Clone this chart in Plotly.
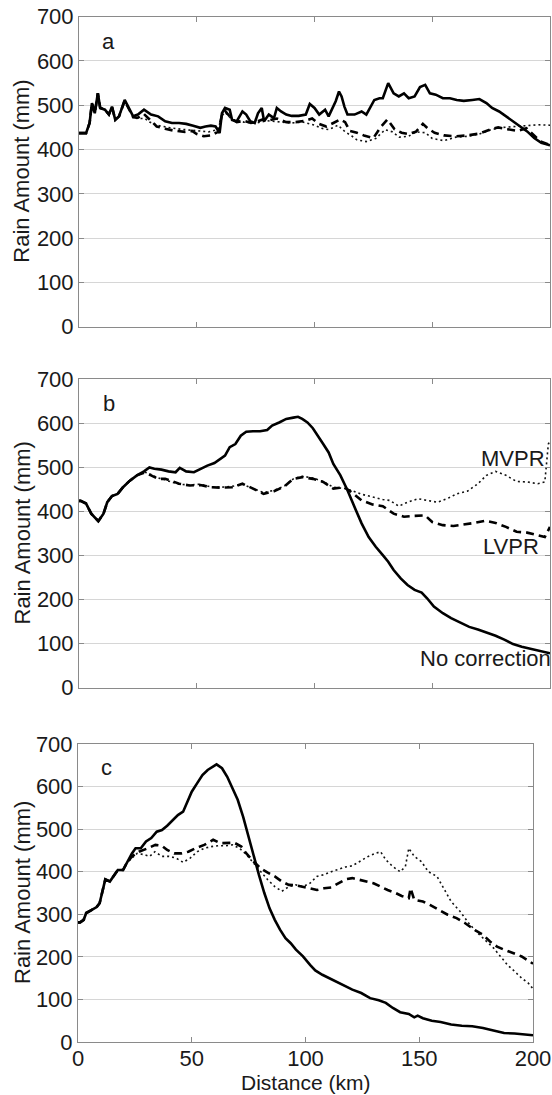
import plotly.graph_objects as go

# ---------------- Panel a ----------------
a_nc_x = [0, 3, 4.5, 5.5, 6.7, 8, 9, 11, 12.7, 14, 15.4, 17, 19.4, 21, 23, 25, 27.6, 30.6, 33.6, 36.6, 39.5, 42.5, 45.5, 48.5, 51.5, 53.7, 56, 58, 59.7, 60.7, 62, 64, 65, 67, 69.4, 71, 72.7, 74.6, 76, 77.6, 78.6, 80.6, 82.8, 84, 85.8, 88, 90.3, 93.3, 96.3, 98, 100, 102, 104.5, 106, 108, 109, 110.4, 111.5, 112.7, 114, 117, 120, 122, 125.4, 127.6, 129, 131.3, 133.6, 135.8, 138, 140, 142.5, 144.8, 147, 149, 151.5, 154.5, 157.5, 160.4, 163.4, 167, 170, 173, 175.4, 178.4, 181.3, 184.3, 187.3, 190.3, 193.3, 196.3, 199.3, 200]
a_nc_y = [437, 437, 460, 505, 482, 527, 494, 490, 479, 497, 467, 475, 512, 497, 475, 479, 490, 479, 475, 464, 460, 460, 458, 454, 449, 452, 454, 452, 437, 482, 494, 490, 467, 464, 486, 479, 464, 460, 482, 494, 464, 479, 471, 494, 486, 479, 476, 476, 479, 503, 494, 479, 490, 475, 499, 509, 531, 520, 497, 479, 479, 486, 479, 512, 516, 516, 550, 527, 520, 527, 516, 520, 541, 546, 527, 524, 516, 516, 512, 510, 512, 514, 505, 494, 486, 475, 464, 452, 441, 426, 415, 411, 409]

a_lv_x = [0, 3, 4.5, 5.5, 6.7, 8, 9, 11, 12.7, 14, 15.4, 17, 19.4, 21, 23, 25, 27.6, 30, 33, 36.6, 40, 45, 48, 50, 53, 56, 59, 60.7, 62, 65, 67, 70, 73, 75, 78, 80, 84, 88, 92, 96, 99, 102, 105, 108, 111, 113, 115, 118, 121, 125, 128, 131, 134, 137, 140, 143, 146, 148, 151, 155, 160, 165, 170, 175, 178, 182, 186, 190, 193, 196, 200]
a_lv_y = [437, 437, 460, 505, 482, 527, 494, 490, 479, 497, 467, 475, 510, 495, 473, 472, 480, 468, 452, 447, 443, 440, 442, 435, 430, 432, 440, 478, 488, 468, 462, 465, 460, 462, 468, 465, 470, 462, 462, 465, 470, 458, 452, 460, 468, 462, 442, 438, 432, 426, 450, 468, 446, 438, 435, 440, 458, 448, 438, 432, 430, 432, 436, 446, 450, 446, 442, 448, 432, 418, 410]

a_mv_x = [0, 3, 4.5, 5.5, 6.7, 8, 9, 11, 12.7, 14, 15.4, 17, 19.4, 21, 23, 25, 28, 30, 33, 36, 40, 45, 50, 55, 59, 60.7, 62, 65, 70, 75, 80, 85, 90, 95, 100, 103, 106, 110, 113, 116, 118, 122, 126, 130, 133, 136, 140, 143, 147, 150, 155, 160, 165, 170, 175, 180, 185, 190, 195, 200]
a_mv_y = [437, 437, 460, 505, 482, 527, 494, 490, 479, 497, 467, 475, 510, 495, 472, 470, 470, 462, 455, 452, 448, 445, 442, 440, 445, 476, 484, 468, 462, 460, 465, 462, 460, 462, 455, 448, 445, 455, 440, 430, 422, 418, 425, 445, 440, 428, 430, 440, 438, 425, 420, 428, 430, 435, 445, 450, 452, 455, 456, 455]

# ---------------- Panel b ----------------
b_nc_x = [0, 0.7, 3, 5.2, 8.2, 10.4, 12, 14, 16.4, 18.7, 21.6, 24.6, 27.6, 29.9, 32, 35, 38, 41, 42.8, 45.5, 48.8, 51.5, 54.5, 57.5, 59.7, 62, 64, 66.4, 68.7, 71, 73.9, 76.9, 79.9, 82, 85, 88, 91, 93, 94.8, 97, 99.3, 101.5, 103.7, 106, 108, 111, 114, 117, 120, 123, 126, 129, 131.3, 133.6, 136.6, 139.5, 142.5, 145.5, 147.8, 150.7, 154.5, 158, 162, 165.7, 169.4, 173, 176.9, 180.6, 184.3, 188, 191.8, 195.5, 199.3, 200]
b_nc_y = [424, 424, 418, 395, 378, 395, 421, 435, 440, 455, 470, 482, 491, 500, 497, 495, 491, 489, 499, 491, 489, 497, 504, 510, 519, 527, 546, 553, 572, 581, 582, 582, 585, 595, 602, 610, 613, 615, 610, 602, 589, 572, 553, 534, 508, 482, 448, 410, 373, 342, 320, 301, 286, 267, 248, 233, 222, 216, 203, 184, 169, 158, 147, 138, 132, 126, 118, 109, 99, 93, 88, 83, 79, 78]

b_lv_x = [0, 0.7, 3, 5.2, 8.2, 10.4, 12, 14, 16.4, 18.7, 21.6, 24.6, 27.6, 30.6, 33.6, 36.6, 39.5, 42.5, 47, 51.5, 56, 60.4, 65, 69.4, 73.9, 78.4, 82.8, 87.3, 91, 94.8, 99.3, 103.7, 108, 112.7, 115.7, 120, 124.6, 129, 133.6, 138, 142.5, 147, 150, 154.5, 159, 163.4, 167.9, 172.4, 176.9, 181.3, 185.8, 190.3, 194.8, 197.8, 200]
b_lv_y = [424, 424, 418, 395, 378, 395, 421, 435, 440, 455, 470, 482, 488, 482, 474, 474, 469, 463, 459, 460, 455, 454, 455, 463, 452, 440, 446, 457, 474, 478, 474, 467, 452, 455, 444, 425, 416, 412, 395, 388, 390, 391, 376, 369, 367, 370, 374, 379, 374, 365, 354, 352, 346, 342, 365]

b_mv_x = [0, 0.7, 3, 5.2, 8.2, 10.4, 12, 14, 16.4, 18.7, 21.6, 24.6, 27.6, 30.6, 33.6, 36.6, 39.5, 42.5, 47, 51.5, 56, 60.4, 65, 69.4, 73.9, 78.4, 82.8, 87.3, 91, 94.8, 99.3, 103.7, 108, 112.7, 115.7, 120, 124.6, 129, 132, 135.8, 139.5, 144, 147.8, 152.2, 156.7, 160.4, 164.9, 169.4, 173, 176.9, 181.3, 185.8, 190.3, 194.8, 197.8, 199.3, 200]
b_mv_y = [424, 424, 418, 395, 378, 395, 421, 435, 440, 455, 470, 482, 490, 484, 476, 472, 466, 462, 460, 462, 456, 455, 457, 462, 452, 443, 448, 458, 474, 480, 476, 468, 455, 452, 448, 439, 433, 427, 425, 412, 421, 429, 425, 421, 430, 440, 446, 463, 482, 491, 482, 468, 467, 463, 467, 553, 560]

# ---------------- Panel c ----------------
c_nc_x = [0, 0.9, 2.5, 3.6, 5.9, 8.2, 9.5, 10.5, 12, 14, 16, 17.5, 19.8, 21.4, 23.7, 25.3, 27.6, 29.9, 32.2, 34.6, 36.9, 39.2, 41.6, 43.9, 46.2, 47.8, 50, 52.4, 54.7, 57, 59.4, 60.9, 63.3, 65.6, 67.9, 70.2, 72.6, 74.9, 77.2, 79.5, 81.9, 84.2, 86.5, 88.8, 91.2, 93.5, 95.8, 98.9, 102, 104.3, 107.4, 110.5, 113.6, 116.7, 120.6, 124.5, 128.4, 132.2, 135.3, 138.4, 141.6, 145.4, 147.8, 149.3, 151.6, 155.5, 159.4, 164, 168.7, 173.3, 178, 182.6, 187.3, 191.9, 196.6, 199.7, 200]
c_nc_y = [281, 281, 287, 303, 310, 317, 326, 350, 382, 377, 393, 404, 404, 420, 443, 455, 455, 471, 479, 494, 498, 508, 522, 533, 541, 561, 588, 608, 627, 639, 647, 652, 643, 623, 596, 569, 529, 483, 443, 393, 350, 314, 287, 264, 244, 232, 217, 201, 181, 168, 158, 150, 142, 135, 123, 115, 103, 98, 92, 80, 70, 66, 58, 62, 56, 50, 47, 41, 38, 37, 33, 27, 21, 20, 17, 16, 16]

c_lv_x = [0, 0.9, 2.5, 3.6, 5.9, 8.2, 9.5, 10.5, 12, 14, 16, 17.5, 19.8, 21.4, 23.7, 26.8, 30.7, 34, 36.9, 39.2, 42.3, 45.4, 48.5, 51.6, 55.5, 59.4, 62.5, 65.6, 68.7, 71.8, 74, 77.2, 80.3, 83.4, 86.5, 89.6, 92.7, 95.8, 98.9, 102, 105, 108.2, 111.3, 114.4, 117.5, 120.6, 123.7, 126.8, 129.9, 133, 136.1, 139.2, 142.3, 145.4, 146.2, 147.8, 151.6, 154.7, 158.6, 162.5, 166.4, 170.2, 174.1, 178, 181.1, 184.2, 187.3, 191.2, 195, 199.7, 200]
c_lv_y = [281, 281, 287, 303, 310, 317, 326, 350, 382, 377, 393, 404, 404, 420, 436, 447, 455, 463, 461, 451, 443, 443, 447, 455, 463, 475, 467, 468, 468, 459, 443, 424, 408, 398, 389, 377, 369, 368, 365, 361, 357, 361, 363, 373, 382, 385, 381, 377, 373, 365, 357, 351, 343, 338, 361, 334, 330, 322, 310, 299, 291, 279, 264, 252, 236, 224, 217, 209, 201, 185, 184]

c_mv_x = [0, 0.9, 2.5, 3.6, 5.9, 8.2, 9.5, 10.5, 12, 14, 16, 17.5, 19.8, 21.4, 23.7, 26, 29.1, 31.5, 33.8, 36.9, 40, 43.1, 46.2, 49.3, 52.4, 55.5, 58.6, 61.7, 64.8, 67.9, 71, 74.1, 77.2, 80.3, 83.4, 86.5, 89.6, 92.7, 95.8, 98.9, 102, 105, 108.2, 111.3, 114.4, 117.5, 120.6, 123.7, 127.6, 130.7, 133, 135.3, 138.4, 141.6, 143.9, 145.4, 147.8, 150.9, 154, 157.8, 160.9, 164, 167.9, 171.8, 175.7, 179.5, 182.6, 185.7, 188.8, 191.9, 195, 198, 199.7, 200]
c_mv_y = [281, 281, 287, 303, 310, 317, 326, 350, 382, 377, 393, 404, 404, 420, 432, 443, 440, 436, 447, 436, 436, 432, 422, 432, 447, 455, 459, 461, 461, 463, 455, 440, 420, 400, 381, 365, 354, 365, 369, 365, 373, 389, 393, 400, 406, 411, 414, 424, 436, 443, 447, 428, 412, 400, 412, 455, 436, 424, 400, 389, 361, 330, 307, 279, 256, 236, 221, 201, 181, 166, 150, 138, 127, 125]

# ---------------- labels ----------------
panel_letters = ["a", "b", "c"]
y_ticks = [0, 100, 200, 300, 400, 500, 600, 700]
x_ticks = [0, 50, 100, 150, 200]
y_title = "Rain Amount (mm)"
x_title = "Distance (km)"
series_names = ["No correction", "LVPR", "MVPR"]

W, H = 552, 1095
FONT = "Liberation Sans, Arial, Helvetica, sans-serif"
FS = 22
TXT = "#1a1a1a"
AXC = "#8a8a8a"
GRIDC = "#d6d6d6"

# panel geometry in pixels (left, right, top, bottom)
panels_px = [(79, 550, 16.7, 326.7), (79, 550, 379.3, 687.7), (78, 533, 744, 1042)]

fig = go.Figure()

data = [
    (a_nc_x, a_nc_y, a_lv_x, a_lv_y, a_mv_x, a_mv_y),
    (b_nc_x, b_nc_y, b_lv_x, b_lv_y, b_mv_x, b_mv_y),
    (c_nc_x, c_nc_y, c_lv_x, c_lv_y, c_mv_x, c_mv_y),
]

for i, (nx, ny, lx, ly, mx, my) in enumerate(data):
    sfx = "" if i == 0 else str(i + 1)
    xa, ya = "x" + sfx, "y" + sfx
    fig.add_trace(go.Scatter(x=mx, y=my, mode="lines", xaxis=xa, yaxis=ya, name=series_names[2],
                             line=dict(color="#111111", width=1.6, dash="2px,3px"), showlegend=False))
    fig.add_trace(go.Scatter(x=lx, y=ly, mode="lines", xaxis=xa, yaxis=ya, name=series_names[1],
                             line=dict(color="black", width=2.6, dash="8px,5px"), showlegend=False))
    fig.add_trace(go.Scatter(x=nx, y=ny, mode="lines", xaxis=xa, yaxis=ya, name=series_names[0],
                             line=dict(color="black", width=2.6), showlegend=False))

layout = dict(width=W, height=H, margin=dict(l=0, r=0, t=0, b=0, autoexpand=False),
              paper_bgcolor="white", plot_bgcolor="white",
              font=dict(family=FONT, size=FS, color=TXT))

annotations = []
for i, (l, r, t, b) in enumerate(panels_px):
    sfx = "" if i == 0 else str(i + 1)
    xk, yk = "xaxis" + sfx, "yaxis" + sfx
    layout[xk] = dict(domain=[l / W, r / W], range=[0, 200], tickvals=x_ticks,
                      ticks="inside", ticklen=5, tickcolor=AXC, showgrid=False,
                      showline=True, linecolor=AXC, linewidth=1, mirror="ticks",
                      zeroline=False, showticklabels=(i == 2),
                      tickfont=dict(size=FS, family=FONT, color=TXT),
                      anchor="y" + sfx, automargin=False)
    if i == 2:
        layout[xk]["ticklabelstandoff"] = -3
    layout[yk] = dict(domain=[1 - b / H, 1 - t / H], range=[0, 700], tickvals=y_ticks,
                      ticks="inside", ticklen=5, tickcolor=AXC, showgrid=True, gridcolor=GRIDC,
                      showline=True, linecolor=AXC, linewidth=1, mirror="ticks",
                      zeroline=False, tickfont=dict(size=FS, family=FONT, color=TXT),
                      anchor="x" + sfx, automargin=False)
    annotations.append(dict(x=22 / W, y=1 - ((t + b) / 2) / H, xref="paper", yref="paper",
                            text=y_title, textangle=-90, showarrow=False,
                            font=dict(size=FS, family=FONT, color=TXT),
                            xanchor="center", yanchor="middle"))
    annotations.append(dict(x=12.7, y=644, xref="x" + sfx, yref="y" + sfx, text=panel_letters[i],
                            showarrow=False, font=dict(size=FS, family=FONT, color=TXT),
                            xanchor="center", yanchor="middle"))

annotations.append(dict(x=305.5 / W, y=0.5 / H, xref="paper", yref="paper", text=x_title,
                        showarrow=False, font=dict(size=21, family=FONT, color=TXT),
                        xanchor="center", yanchor="bottom", borderpad=0))
annotations.append(dict(x=184.3, y=521, xref="x2", yref="y2", text=series_names[2], showarrow=False,
                        font=dict(size=FS, family=FONT, color=TXT), xanchor="center", yanchor="middle"))
annotations.append(dict(x=183.4, y=320, xref="x2", yref="y2", text=series_names[1], showarrow=False,
                        font=dict(size=FS, family=FONT, color=TXT), xanchor="center", yanchor="middle"))
annotations.append(dict(x=172.4, y=67, xref="x2", yref="y2", text=series_names[0], showarrow=False,
                        font=dict(size=FS, family=FONT, color=TXT), xanchor="center", yanchor="middle"))

layout["annotations"] = annotations
fig.update_layout(**layout)
fig.write_html("out.html", config={"displayModeBar": False},
               post_script="document.body.style.margin='0';document.body.style.padding='0';document.documentElement.style.overflow='hidden';")
